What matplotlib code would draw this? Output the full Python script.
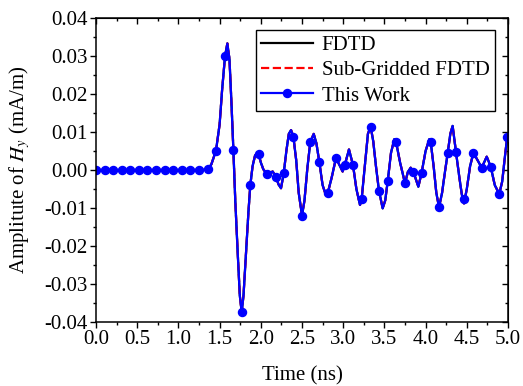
import matplotlib
matplotlib.use('Agg')
import matplotlib.pyplot as plt
from matplotlib.legend_handler import HandlerTuple

plt.rcParams['font.family'] = ['Liberation Serif', 'DejaVu Serif']
plt.rcParams['mathtext.fontset'] = 'stix'
plt.rcParams['axes.unicode_minus'] = False

# Digitized waveform (time in ns, Hy in mA/m)
t_curve = [0.0, 1.30, 1.36, 1.40, 1.456, 1.50, 1.53, 1.566, 1.594, 1.62, 1.645,
           1.667, 1.69, 1.72, 1.745, 1.768, 1.79, 1.82, 1.85, 1.873, 1.90, 1.93,
           1.954, 1.974, 2.00, 2.03, 2.075, 2.144, 2.184, 2.215, 2.245, 2.278,
           2.31, 2.34, 2.367, 2.395, 2.43, 2.46, 2.50, 2.53, 2.565, 2.601, 2.642,
           2.675, 2.71, 2.75, 2.79, 2.812, 2.86, 2.913, 2.95, 2.993, 3.018, 3.07,
           3.119, 3.16, 3.204, 3.224, 3.26, 3.30, 3.333, 3.365, 3.40, 3.434,
           3.479, 3.51, 3.54, 3.58, 3.62, 3.641, 3.69, 3.75, 3.785, 3.819, 3.851,
           3.912, 3.952, 4.00, 4.045, 4.062, 4.10, 4.13, 4.163, 4.20, 4.235,
           4.268, 4.30, 4.328, 4.369, 4.41, 4.44, 4.466, 4.50, 4.54, 4.579,
           4.62, 4.681, 4.742, 4.79, 4.84, 4.894, 4.93, 4.96, 4.99, 5.0]
h_curve = [0.0, 0.0, 0.0002, 0.0015, 0.0051, 0.012, 0.021, 0.030, 0.0333, 0.029,
           0.017, 0.0053, -0.008, -0.022, -0.033, -0.0374, -0.033, -0.022, -0.011,
           -0.0039, 0.001, 0.0038, 0.0044, 0.0041, 0.002, 0.0002, -0.0011,
           -0.0004, -0.0018, -0.0038, -0.0048, -0.0009, 0.005, 0.0095, 0.0105,
           0.0088, 0.0025, -0.006, -0.012, -0.008, 0.0005, 0.0074, 0.0095, 0.007,
           0.0021, -0.004, -0.0066, -0.0061, -0.002, 0.0032, 0.0015, -0.0004,
           0.0012, 0.0054, 0.0013, -0.005, -0.0092, -0.0076, 0.0005, 0.0095,
           0.0114, 0.0075, 0.0005, -0.0054, -0.0101, -0.008, -0.003, 0.0045,
           0.0081, 0.0074, 0.002, -0.0035, -0.0005, 0.0006, -0.0004, -0.0044,
           -0.0007, 0.005, 0.0081, 0.0074, 0.0005, -0.006, -0.0098, -0.006,
           -0.0005, 0.0044, 0.0095, 0.0116, 0.0047, -0.002, -0.0065, -0.0088,
           -0.005, 0.001, 0.0044, 0.003, 0.0006, 0.0035, 0.0009, -0.004, -0.0063,
           -0.003, 0.003, 0.0086, 0.0095]

# Markers of "This Work"
t_mark = [0.0, 0.104, 0.208, 0.312, 0.416, 0.52, 0.624, 0.728, 0.832, 0.936,
          1.04, 1.144, 1.246, 1.355, 1.456, 1.566, 1.667, 1.768, 1.873, 1.974,
          2.075, 2.184, 2.278, 2.395, 2.5, 2.601, 2.71, 2.812, 2.913, 3.018,
          3.119, 3.224, 3.333, 3.434, 3.54, 3.641, 3.75, 3.851, 3.952, 4.062,
          4.163, 4.268, 4.369, 4.47, 4.579, 4.681, 4.79, 4.894, 4.99]
h_mark = [0.0, 0.0, 0.0, 0.0, 0.0, 0.0, 0.0, 0.0, 0.0, 0.0,
          0.0, 0.0, 0.0, 0.0002, 0.0051, 0.030, 0.0053, -0.0374, -0.0039, 0.0041,
          -0.0011, -0.0018, -0.0009, 0.0088, -0.012, 0.0074, 0.0021, -0.0061, 0.0032, 0.0012,
          0.0013, -0.0076, 0.0114, -0.0054, -0.003, 0.0074, -0.0035, -0.0004, -0.0007, 0.0074,
          -0.0098, 0.0044, 0.0047, -0.0077, 0.0044, 0.0006, 0.0009, -0.0063, 0.0086]

x_ticks = [0.0, 0.5, 1.0, 1.5, 2.0, 2.5, 3.0, 3.5, 4.0, 4.5, 5.0]
y_ticks = [-0.04, -0.03, -0.02, -0.01, 0.00, 0.01, 0.02, 0.03, 0.04]

fs = 15

fig = plt.figure(figsize=(5.23, 3.86), dpi=100)
ax = fig.add_axes([0.1836, 0.1658, 0.7877, 0.7876])

l1, = ax.plot(t_curve, h_curve, color='black', lw=1.6)
l2, = ax.plot(t_curve, h_curve, color='red', lw=1.6, ls='--')
l3, = ax.plot(t_curve, h_curve, color='blue', lw=1.6)
l4, = ax.plot(t_mark, h_mark, 'o', color='blue', ms=5.8)

ax.set_xlim(0, 5)
ax.set_ylim(-0.04, 0.04)
ax.set_xticks(x_ticks)
ax.set_xticklabels(['%.1f' % v for v in x_ticks])
ax.set_yticks(y_ticks)
ax.set_yticklabels(['%.2f' % v for v in y_ticks])
ax.minorticks_on()
ax.xaxis.set_minor_locator(matplotlib.ticker.MultipleLocator(0.25))
ax.yaxis.set_minor_locator(matplotlib.ticker.MultipleLocator(0.005))
ax.tick_params(which='both', direction='out', labelsize=fs, width=1, pad=2)
ax.tick_params(which='major', length=4)
ax.tick_params(which='minor', length=2.5)
for s in ax.spines.values():
    s.set_linewidth(1.1)

# mirrored ticks pointing inward on top and right
top = ax.secondary_xaxis('top')
top.set_xticks(x_ticks)
top.xaxis.set_minor_locator(matplotlib.ticker.MultipleLocator(0.25))
top.tick_params(which='both', direction='in', labeltop=False, width=1)
top.tick_params(which='major', length=4)
top.tick_params(which='minor', length=2.5)
right = ax.secondary_yaxis('right')
right.set_yticks(y_ticks)
right.yaxis.set_minor_locator(matplotlib.ticker.MultipleLocator(0.005))
right.tick_params(which='both', direction='in', labelright=False, width=1)
right.tick_params(which='major', length=4)
right.tick_params(which='minor', length=2.5)

ax.set_xlabel('Time (ns)', fontsize=fs, labelpad=12)
ax.set_ylabel(r'Amplitute of $H_y$ (mA/m)', fontsize=fs, labelpad=9)

leg = ax.legend([l1, l2, (l3, l4)], ['FDTD', 'Sub-Gridded FDTD', 'This Work'],
                handler_map={tuple: HandlerTuple(ndivide=1)},
                loc='upper right', bbox_to_anchor=(0.968, 0.96), borderaxespad=0,
                fontsize=fs, fancybox=False, framealpha=1, edgecolor='black',
                handlelength=2.5, handletextpad=0.4, labelspacing=0.28, borderpad=0.25)
leg.get_frame().set_linewidth(1)

fig.savefig('out.png', dpi=100)
